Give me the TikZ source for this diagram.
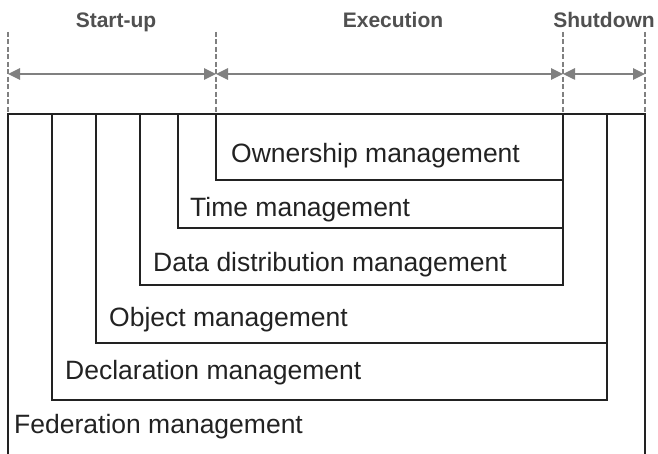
\documentclass[tikz,border=0pt]{standalone}
\usepackage{fontspec}
\setmainfont{Liberation Sans}
\usetikzlibrary{arrows.meta}
\definecolor{boxline}{HTML}{222222}
\definecolor{guide}{HTML}{808080}
\definecolor{head}{HTML}{505050}
\begin{document}
\begin{tikzpicture}[x=1pt,y=-1pt,
  boxedge/.style={draw=boxline,line width=2pt,line join=miter},
  guideline/.style={draw=guide,line width=2.5pt,dash pattern=on 5pt off 2.5pt},
  span/.style={draw=guide,line width=2.5pt,{Triangle[length=12pt,width=11pt]}-{Triangle[length=12pt,width=11pt]}},
  phase/.style={font=\fontsize{21}{25}\selectfont\bfseries,text=head,inner sep=0pt,anchor=base},
  areatext/.style={font=\fontsize{26.5}{30}\selectfont,text=boxline,inner sep=0pt,anchor=base west}]
\useasboundingbox (0,0) rectangle (658,454);
% phase headers
\node[phase] (startup) at (116,28) {Start-up};
\node[phase] (execution) at (393,28) {Execution};
\node[phase] (shutdown) at (604,28) {Shutdown};
% guide lines
\foreach \n/\x in {1/8,2/216,3/563,4/645}{
  \coordinate (gt\n) at (\x,32);
  \coordinate (gb\n) at (\x,114);
  \coordinate (ga\n) at (\x,74);
  \draw[guideline] (gt\n) -- (gb\n);
}
\draw[span] (ga1) -- (ga2);
\draw[span] (ga2) -- (ga3);
\draw[span] (ga3) -- (ga4);
% boxes
\draw[boxedge] (8,455) -- (8,114) -- (645,114) -- (645,455);
\draw[boxedge] (52,114) -- (52,400) -- (607,400) -- (607,114);
\draw[boxedge] (96,114) -- (96,343) -- (607,343);
\draw[boxedge] (140,114) -- (140,285) -- (563,285) -- (563,114);
\draw[boxedge] (178,114) -- (178,228) -- (563,228);
\draw[boxedge] (216,114) -- (216,180) -- (563,180);
% labels
\node[areatext] (own) at (231,163) {Ownership management};
\node[areatext] (time) at (190,217) {Time management};
\node[areatext] (data) at (153,272) {Data distribution management};
\node[areatext] (obj) at (109,326) {Object management};
\node[areatext] (decl) at (65,379) {Declaration management};
\node[areatext] (fed) at (14,433) {Federation management};
\end{tikzpicture}
\end{document}
